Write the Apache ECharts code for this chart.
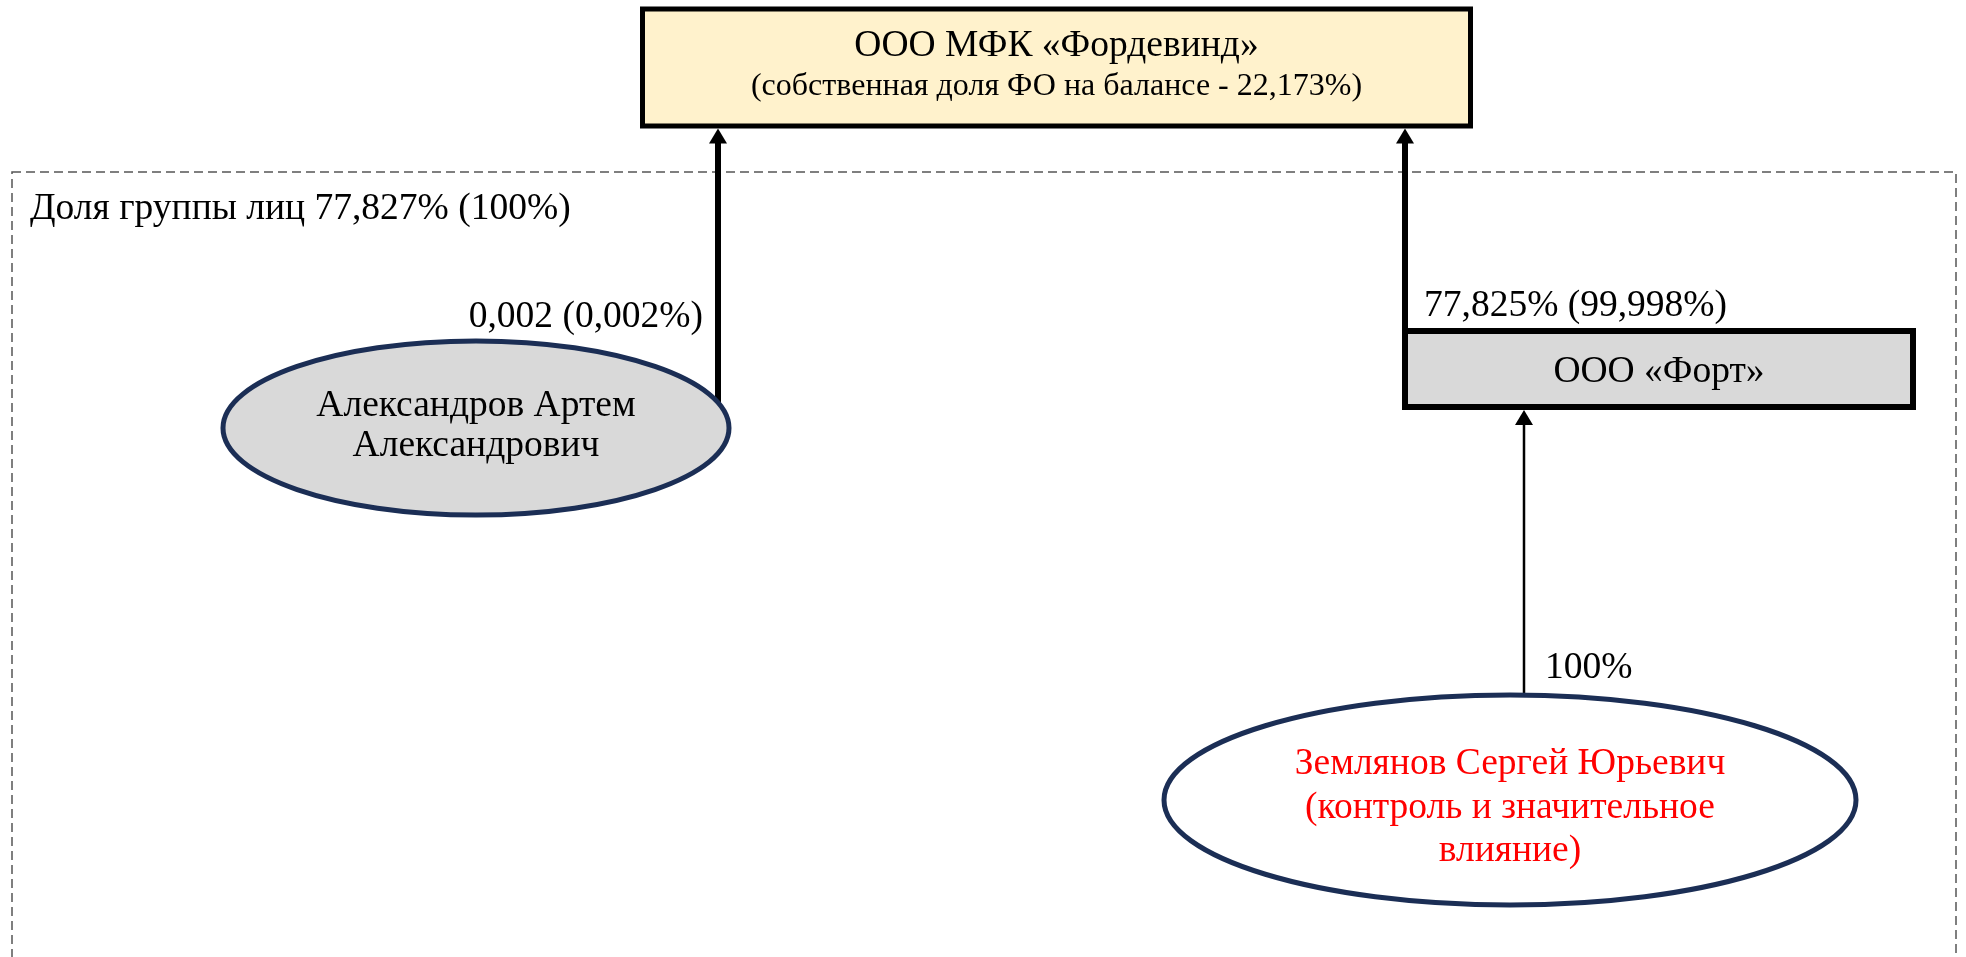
<!DOCTYPE html>
<html><head><meta charset="utf-8">
<script src="https://cdn.jsdelivr.net/npm/echarts@6/dist/echarts.min.js"></script>
<style>html,body{margin:0;padding:0;background:#fff}#c{width:1966px;height:957px}</style>
</head><body><div id="c"></div>
<script>
// ---- content ----
const nodeNames = ['ООО МФК «Фордевинд»', 'Александров Артем Александрович', 'ООО «Форт»', 'Землянов Сергей Юрьевич'];
const nodeLines = [
  ['ООО МФК «Фордевинд»', '(собственная доля ФО на балансе - 22,173%)'],
  ['Александров Артем', 'Александрович'],
  ['ООО «Форт»'],
  ['Землянов Сергей Юрьевич', '(контроль и значительное', 'влияние)']
];
const edgeSources = [1, 2, 3];
const edgeTargets = [0, 0, 2];
const edgeLabels = ['0,002 (0,002%)', '77,825% (99,998%)', '100%'];
const groupLabel = 'Доля группы лиц 77,827% (100%)';

// ---- layout (canvas units) ----
const FONT = '"Liberation Serif", "Times New Roman", serif';
const FS = 37.5;
const nodeLayout = [
  {shape: 'rect', cx: 1056.5, cy: 67.5, w: 828, h: 117, fill: '#FFF2CC', stroke: '#000000', lw: 5,
   lineY: [46, 87], sizes: [FS, 32], color: '#000000'},
  {shape: 'ellipse', cx: 476, cy: 428, w: 506, h: 174, fill: '#D9D9D9', stroke: '#1B2E55', lw: 5,
   lineY: [406.5, 446.5], sizes: [FS, FS], color: '#000000'},
  {shape: 'rect', cx: 1659, cy: 369, w: 508, h: 76, fill: '#D9D9D9', stroke: '#000000', lw: 6,
   lineY: [372], sizes: [FS], color: '#000000'},
  {shape: 'ellipse', cx: 1510, cy: 800, w: 692, h: 210, fill: '#FFFFFF', stroke: '#1B2E55', lw: 5,
   lineY: [764, 808, 851], sizes: [FS, FS, FS], color: '#FF0000'}
];
const edgeLayout = [
  {x: 718, lw: 6, headW: 18, headL: 15, lx: 703, ly: 317, align: 'right'},
  {x: 1405, lw: 6, headW: 18, headL: 15, lx: 1424, ly: 306, align: 'left'},
  {x: 1524, lw: 2.5, headW: 18, headL: 15, lx: 1545, ly: 668, align: 'left'}
];
const frame = {x0: 12, y0: 172, x1: 1956, y1: 980, lx: 30, ly: 209};

function sourceTop(n, x) {
  if (n.shape === 'ellipse') {
    const rx = n.w / 2, ry = n.h / 2, d = (x - n.cx) / rx;
    return n.cy - ry * Math.sqrt(Math.max(0, 1 - d * d));
  }
  return n.cy - n.h / 2;
}

const chart = echarts.init(document.getElementById('c'), null, {renderer: 'canvas'});
chart.setOption({
  backgroundColor: '#ffffff',
  animation: false,
  grid: {left: 0, right: 0, top: 0, bottom: 0},
  xAxis: {type: 'value', min: 0, max: 1966, show: false},
  yAxis: {type: 'value', min: 0, max: 957, inverse: true, show: false},
  series: [
    { // frame
      type: 'custom', clip: false, z: 1,
      data: [[frame.x0, frame.y0]],
      renderItem: function (params, api) {
        const p0 = api.coord([frame.x0, frame.y0]);
        const p1 = api.coord([frame.x1, frame.y1]);
        const lp = api.coord([frame.lx, frame.ly]);
        return {type: 'group', children: [
          {type: 'rect', shape: {x: p0[0], y: p0[1], width: p1[0] - p0[0], height: p1[1] - p0[1]},
           style: {fill: 'none', stroke: '#555555', lineWidth: 1.5, lineDash: [9, 5]}},
          {type: 'text', style: {text: groupLabel, x: lp[0], y: lp[1], font: FS + 'px ' + FONT,
           fill: '#000', align: 'left', verticalAlign: 'middle'}}
        ]};
      }
    },
    { // edges
      type: 'custom', clip: false, z: 2,
      data: edgeSources.map((s, i) => [i, s, edgeTargets[i]]),
      renderItem: function (params, api) {
        const i = params.dataIndex, e = edgeLayout[i];
        const src = nodeLayout[edgeSources[i]], tgt = nodeLayout[edgeTargets[i]];
        const yStart = sourceTop(src, e.x);
        const yTip = tgt.cy + tgt.h / 2 + tgt.lw / 2;
        const a = api.coord([e.x, yStart]);
        const b = api.coord([e.x, yTip]);
        const hs = api.size([e.headW, e.headL]);
        const lp = api.coord([e.lx, e.ly]);
        return {type: 'group', children: [
          {type: 'line', shape: {x1: a[0], y1: a[1], x2: b[0], y2: b[1] + hs[1] - 1},
           style: {stroke: '#000', lineWidth: e.lw}},
          {type: 'polygon', shape: {points: [[b[0], b[1]], [b[0] - hs[0] / 2, b[1] + hs[1]], [b[0] + hs[0] / 2, b[1] + hs[1]]]},
           style: {fill: '#000'}},
          {type: 'text', style: {text: edgeLabels[i], x: lp[0], y: lp[1], font: FS + 'px ' + FONT,
           fill: '#000', align: e.align, verticalAlign: 'middle'}}
        ]};
      }
    },
    { // nodes
      type: 'custom', clip: false, z: 3,
      data: nodeNames.map((n, i) => [nodeLayout[i].cx, nodeLayout[i].cy]),
      renderItem: function (params, api) {
        const i = params.dataIndex, n = nodeLayout[i];
        const c = api.coord([n.cx, n.cy]);
        const s = api.size([n.w, n.h]);
        const children = [];
        if (n.shape === 'rect') {
          children.push({type: 'rect', shape: {x: c[0] - s[0] / 2, y: c[1] - s[1] / 2, width: s[0], height: s[1]},
            style: {fill: n.fill, stroke: n.stroke, lineWidth: n.lw}});
        } else {
          children.push({type: 'ellipse', shape: {cx: c[0], cy: c[1], rx: s[0] / 2, ry: s[1] / 2},
            style: {fill: n.fill, stroke: n.stroke, lineWidth: n.lw}});
        }
        nodeLines[i].forEach((t, k) => {
          const p = api.coord([n.cx, n.lineY[k]]);
          children.push({type: 'text', style: {text: t, x: p[0], y: p[1], font: n.sizes[k] + 'px ' + FONT,
            fill: n.color, align: 'center', verticalAlign: 'middle'}});
        });
        return {type: 'group', children: children};
      }
    }
  ]
});
</script>
</body></html>
